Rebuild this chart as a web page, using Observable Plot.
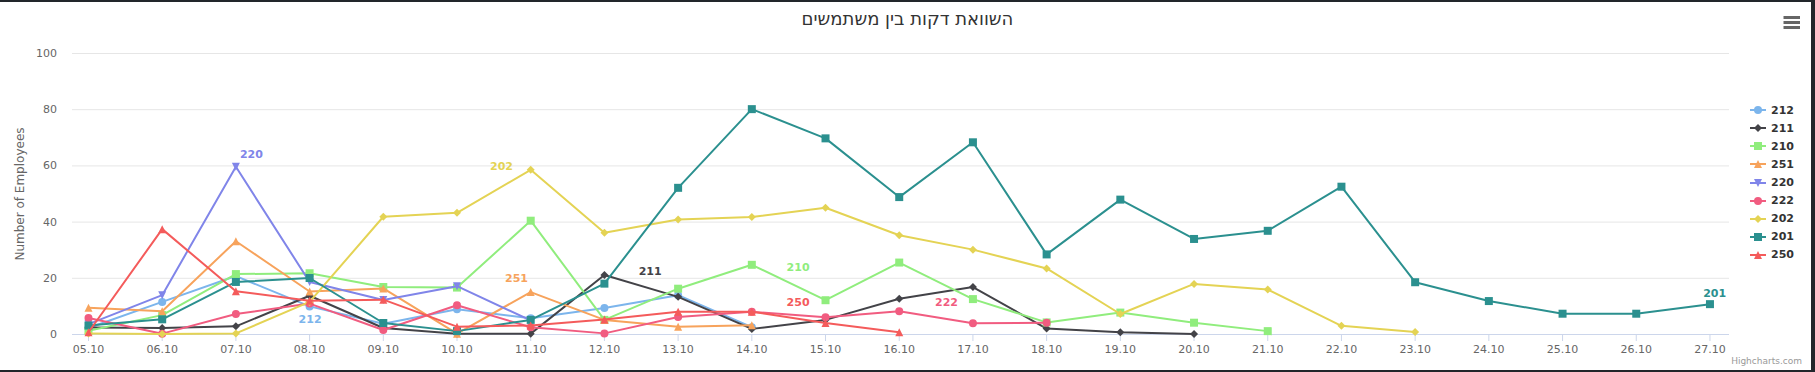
<!DOCTYPE html>
<html>
<head>
<meta charset="utf-8">
<script src="https://cdn.jsdelivr.net/npm/d3@7"></script>
<script src="https://cdn.jsdelivr.net/npm/@observablehq/plot@0.6"></script>
<style>
html, body { margin: 0; padding: 0; background: #fff; }
#wrap { position: relative; width: 1815px; height: 372px; overflow: hidden; font-family: "DejaVu Sans", sans-serif; background: #fff; }
#chart { position: absolute; left: 0; top: 0; }
#title { position: absolute; left: 0; top: 8px; width: 1815px; text-align: center; font-size: 18px; line-height: 22px; color: #333; direction: rtl; font-family: "DejaVu Sans", sans-serif; }
#legend { position: absolute; left: 1750px; top: 101.3px; }
.li { display: flex; align-items: center; height: 18.05px; }
.li span { margin-left: 5px; font-weight: bold; font-size: 11px; color: #333; }
#credits { position: absolute; right: 13px; top: 356px; font-size: 9px; color: #999; }
#menu { position: absolute; left: 1783px; top: 15px; }
.frame { position: absolute; background: #22262b; }
</style>
</head>
<body>
<div id="wrap">
  <div id="chart"></div>
  <div id="title">השוואת דקות בין משתמשים</div>
  <div id="legend"></div>
  <div id="credits">Highcharts.com</div>
  <svg id="menu" width="18" height="16"><g stroke="#666" stroke-width="3"><line x1="0.5" x2="17" y1="2.5" y2="2.5"/><line x1="0.5" x2="17" y1="7.5" y2="7.5"/><line x1="0.5" x2="17" y1="12.5" y2="12.5"/></g></svg>
  <div class="frame" style="left:0;top:0;width:1815px;height:2px"></div>
  <div class="frame" style="left:0;top:370px;width:1815px;height:2px"></div>
  <div class="frame" style="left:1811px;top:0;width:4px;height:372px"></div>
</div>
<script>
// ---- data ----
const dates = ["05.10","06.10","07.10","08.10","09.10","10.10","11.10","12.10","13.10","14.10","15.10","16.10","17.10","18.10","19.10","20.10","21.10","22.10","23.10","24.10","25.10","26.10","27.10"];
const seriesNames = ["212","211","210","251","220","222","202","201","250"];
const s212 = [2.3, 11.6, 20.8, 10.0, 3.8, 9.0, 5.8, 9.4, 14.0, 2.6];
const s211 = [2.5, 2.3, 2.9, 13.8, 2.3, 0.3, 0.3, 21.2, 13.4, 2.0, 5.2, 12.7, 16.9, 2.1, 0.8, 0.2];
const s210 = [1.3, 6.9, 21.5, 21.8, 16.9, 16.7, 40.5, 5.2, 16.3, 24.8, 12.2, 25.6, 12.6, 4.3, 7.8, 4.2, 1.2];
const s251 = [9.5, 8.3, 33.2, 15.3, 16.4, 0.3, 15.1, 5.2, 2.8, 3.3];
const s220 = [3.7, 14.0, 59.7, 18.7, 12.3, 17.2, 5.0];
const s222 = [5.9, 0.3, 7.3, 11.0, 1.6, 10.4, 2.6, 0.4, 6.2, 8.1, 6.1, 8.3, 4.0, 4.2];
const s202 = [0.4, 0.2, 0.4, 11.6, 41.9, 43.3, 58.6, 36.2, 40.9, 41.8, 45.1, 35.3, 30.2, 23.5, 7.3, 18.0, 16.0, 3.1, 0.9];
const s201 = [3.2, 5.4, 18.7, 20.1, 4.1, 1.2, 5.2, 18.1, 52.2, 80.2, 69.8, 48.9, 68.4, 28.5, 48.0, 34.0, 36.9, 52.6, 18.6, 11.9, 7.4, 7.4, 10.8];
const s250 = [0.8, 37.5, 15.4, 12.0, 12.4, 2.8, 3.2, 5.3, 8.1, 8.1, 4.1, 0.8];
const seriesValues = [s212, s211, s210, s251, s220, s222, s202, s201, s250];
const yTicks = [0, 20, 40, 60, 80, 100];
const yTitle = "Number of Employees";
// series label anchors (series, category)
const labelSeries = ["220","212","202","251","211","210","250","222","201"];
const labelDates  = ["07.10","08.10","11.10","11.10","12.10","14.10","14.10","16.10","27.10"];

// ---- styles ----
const colors = ["#7cb5ec","#434348","#90ed7d","#f7a35c","#8085e9","#f15c80","#e4d354","#2b908f","#f45b5b"];
const symbolKinds = ["circle","diamond","square","triangle","triangleDown","circle","diamond","square","triangle"];
const rad = s => Math.sqrt(s / Math.PI);
const sym = {
  circle: {draw(c, s) { const r = rad(s); c.moveTo(r, 0); c.arc(0, 0, r, 0, 2 * Math.PI); c.closePath(); }},
  square: {draw(c, s) { const r = rad(s); c.rect(-r, -r, 2 * r, 2 * r); }},
  diamond: {draw(c, s) { const r = rad(s); c.moveTo(0, -r); c.lineTo(r, 0); c.lineTo(0, r); c.lineTo(-r, 0); c.closePath(); }},
  triangle: {draw(c, s) { const r = rad(s); c.moveTo(0, -r); c.lineTo(r, r); c.lineTo(-r, r); c.closePath(); }},
  triangleDown: {draw(c, s) { const r = rad(s); c.moveTo(-r, -r); c.lineTo(r, -r); c.lineTo(0, r); c.closePath(); }}
};
const labelOpts = {
  "220": {dx: 4, dy: -12.5, textAnchor: "start"},
  "212": {dx: -11, dy: 13, textAnchor: "start"},
  "202": {dx: -17.7, dy: -3.8, textAnchor: "end"},
  "251": {dx: -2.7, dy: -13.6, textAnchor: "end"},
  "211": {dx: 34.3, dy: -3.8, textAnchor: "start"},
  "210": {dx: 34.8, dy: 2.3, textAnchor: "start"},
  "250": {dx: 34.8, dy: -9, textAnchor: "start"},
  "222": {dx: 35.8, dy: -8.4, textAnchor: "start"},
  "201": {dx: -6.8, dy: -11, textAnchor: "start"}
};

// ---- build ----
const tables = seriesNames.map((name, k) => seriesValues[k].map((v, i) => ({series: name, date: dates[i], value: v})));

const seriesMarks = [];
seriesNames.forEach((name, k) => {
  seriesMarks.push(Plot.line(tables[k], {x: "date", y: "value", stroke: colors[k], strokeWidth: 2, strokeLinejoin: "round", strokeLinecap: "round"}));
  seriesMarks.push(Plot.dot(tables[k], {x: "date", y: "value", fill: colors[k], stroke: "none", symbol: sym[symbolKinds[k]], r: 4}));
});

const labelMarks = labelSeries.map((name, j) => {
  const k = seriesNames.indexOf(name);
  const row = tables[k].filter(d => d.date === labelDates[j]);
  const o = labelOpts[name];
  return Plot.text(row, {x: "date", y: "value", text: d => d.series, fill: colors[k], fontWeight: "bold", fontSize: 11, lineAnchor: "middle", ...o});
});

const chart = Plot.plot({
  width: 1815,
  height: 372,
  marginLeft: 72,
  marginRight: 86,
  marginTop: 53,
  marginBottom: 38,
  x: {type: "point", domain: dates, padding: 0.241, align: 0.45, round: false},
  y: {domain: [0, 100]},
  style: {background: "transparent", fontFamily: "DejaVu Sans, sans-serif", fontSize: "11px", color: "#666"},
  marks: [
    Plot.gridY(yTicks.filter(t => t > 0), {stroke: "#e6e6e6", strokeOpacity: 1}),
    Plot.axisY(yTicks, {tickSize: 0, tickPadding: 15.5, label: null, fontSize: 11, fill: "#666"}),
    Plot.ruleY([0], {stroke: "#ccd6eb"}),
    Plot.axisX({tickSize: 7, tickPadding: 4, stroke: "#ccd6eb", strokeOpacity: 1, fill: "#666", label: null, fontSize: 11}),
    Plot.text([yTitle], {frameAnchor: "left", rotate: -90, dx: -52, textAnchor: "middle", lineAnchor: "middle", fill: "#666", fontSize: 12}),
    ...seriesMarks,
    ...labelMarks
  ]
});
document.getElementById("chart").appendChild(chart);

// ---- legend ----
const legend = d3.select("#legend");
seriesNames.forEach((name, k) => {
  const row = legend.append("div").attr("class", "li");
  const svg = row.append("svg").attr("width", 16).attr("height", 12);
  svg.append("line").attr("x1", 0).attr("x2", 16).attr("y1", 6).attr("y2", 6).attr("stroke", colors[k]).attr("stroke-width", 2);
  const p = d3.path();
  sym[symbolKinds[k]].draw(p, 16 * Math.PI);
  svg.append("path").attr("d", p.toString()).attr("transform", "translate(8,6)").attr("fill", colors[k]);
  row.append("span").text(name);
});
</script>
</body>
</html>
